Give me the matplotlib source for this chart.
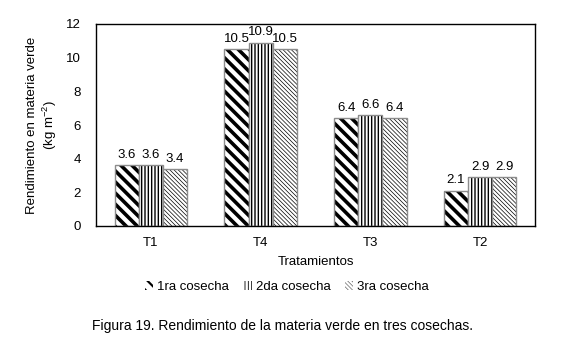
import numpy as np
import matplotlib
matplotlib.use('Agg')
import matplotlib.pyplot as plt
from matplotlib.patches import Patch

plt.rcParams['font.family'] = ['Liberation Sans', 'DejaVu Sans']
plt.rcParams['mathtext.fontset'] = 'custom'
plt.rcParams['mathtext.rm'] = 'Liberation Sans'

# Data
tratamientos = ['T1', 'T4', 'T3', 'T2']
cosecha1 = [3.6, 10.5, 6.4, 2.1]
cosecha2 = [3.6, 10.9, 6.6, 2.9]
cosecha3 = [3.4, 10.5, 6.4, 2.9]
series_names = ['1ra cosecha', '2da cosecha', '3ra cosecha']

hatches = ['\\\\\\', '|||||', '\\\\\\\\\\\\\\\\']
hatch_lw = [2.6, 1.0, 0.5]

fig = plt.figure(figsize=(5.71, 3.52), dpi=100)
ax = fig.add_axes([96 / 571, 1 - 226 / 352, (535 - 96) / 571, (226 - 24) / 352])

x = np.arange(len(tratamientos))
w = 0.22
for i, vals in enumerate([cosecha1, cosecha2, cosecha3]):
    pos = x + (i - 1) * w
    bars = ax.bar(pos, vals, w, color='white', edgecolor='black', linewidth=0,
                  hatch=hatches[i])
    for b in bars:
        b.set_hatch_linewidth(hatch_lw[i])
    ax.bar(pos, vals, w, fill=False, edgecolor='#8c8c8c', linewidth=1.0)
    ax.bar_label(bars, labels=[f'{v:.1f}' for v in vals], padding=3, fontsize=9.5)

ax.set_xlim(-0.5, 3.5)
ax.set_ylim(0, 12)
ax.set_yticks(np.arange(0, 13, 2))
ax.set_xticks(x)
ax.set_xticklabels(tratamientos)
ax.tick_params(length=0, labelsize=9.5)
ax.tick_params(axis='y', pad=11)
ax.tick_params(axis='x', pad=8)
for s in ax.spines.values():
    s.set_linewidth(1.0)
    s.set_color('black')

ax.set_xlabel('Tratamientos', fontsize=9.5, labelpad=5)
ax.set_ylabel('Rendimiento en materia verde\n(kg m$^{-2}$)', fontsize=9.5, labelpad=5)

handles = []
for i in range(3):
    p = Patch(facecolor='white', edgecolor='black', hatch=hatches[i], linewidth=0)
    handles.append(p)
leg = fig.legend(handles, series_names, loc='center', bbox_to_anchor=(287 / 571, 1 - 287 / 352),
                 ncol=3, frameon=False, fontsize=9.5, handlelength=0.6, handleheight=0.6,
                 handletextpad=0.3, columnspacing=1.1)
for i, h in enumerate(leg.legend_handles):
    h.set_hatch_linewidth(hatch_lw[i] * 0.6)

fig.text(92 / 571, 1 - 326 / 352, 'Figura 19. Rendimiento de la materia verde en tres cosechas.',
         fontsize=10, va='center', ha='left')

plt.savefig('out.png', dpi=100)
